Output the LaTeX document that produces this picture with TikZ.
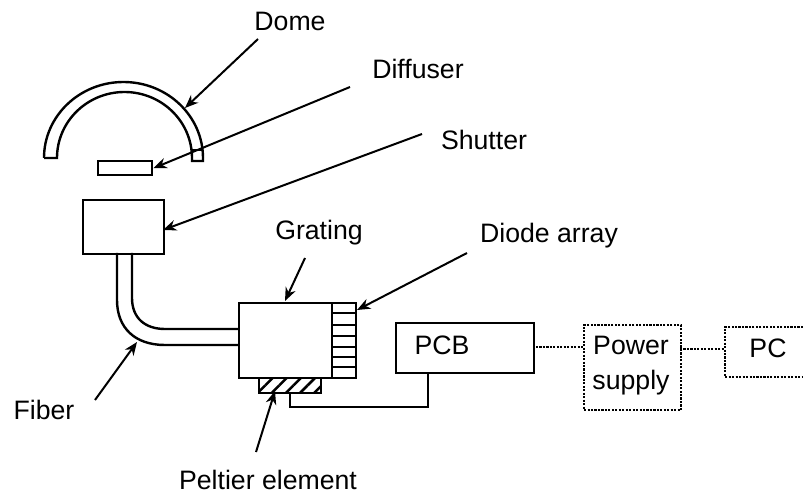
\documentclass[tikz,border=0pt]{standalone}
\usepackage{fontspec}
\setmainfont{Liberation Sans}
\usetikzlibrary{arrows.meta, patterns.meta}
\begin{document}
\begin{tikzpicture}[x=0.75pt, y=-0.75pt, >={Stealth[length=10pt, width=8pt]}, font=\fontsize{20}{27}\selectfont,
    part/.style={draw, line width=1.8pt, fill=white, inner sep=0pt, anchor=north west},
    caption/.style={inner sep=0pt},
    pointer/.style={->, line width=1.5pt},
    wire/.style={line width=1.8pt},
    link/.style={line width=1.6pt, densely dotted}]
    \useasboundingbox (0,0) rectangle (803,495);
    % optics
    \draw[wire] (44,158) -- (57,158) arc[start angle=180, end angle=360, x radius=67.5, y radius=66] -- (192,161) -- (203,161) -- (203,158);
    \draw[wire] (44,158) arc[start angle=180, end angle=360, x radius=79.5, y radius=76];
    \draw[wire] (192,150) -- (203,150);
    \node (diffuser) [part, minimum width=54*0.75pt, minimum height=14*0.75pt] at (97,160) {};
    \node (shutter) [part, minimum width=81*0.75pt, minimum height=54*0.75pt] at (82,199) {};
    \draw[wire] (117,253) -- (117,300) .. controls (117,328) and (135,345) .. (165,345) -- (238,345);
    \draw[wire] (132,253) -- (132,298) .. controls (132,318) and (145,329) .. (165,329) -- (238,329);
    % spectrometer
    \node (grating) [part, minimum width=93*0.75pt, minimum height=75*0.75pt] at (238,302) {};
    \node (diode) [part, minimum width=24*0.75pt, minimum height=75*0.75pt] at (331,302) {};
    \foreach \y in {313,325,336,347,357,367}
        \draw[line width=1.5pt] (331,\y) -- (355,\y);
    \node (peltier) [part, minimum width=62*0.75pt, minimum height=15*0.75pt, pattern={Lines[angle=45, distance=7.5pt, line width=1.9pt]}, pattern color=black] at (258,377) {};
    \node (pcb) [part, minimum width=138*0.75pt, minimum height=50*0.75pt] at (395,322) {};
    \node (supply) [part, line width=1.6pt, densely dotted, minimum width=97*0.75pt, minimum height=85*0.75pt] at (583,324) {};
    \coordinate (pcbwire) at (428,372);
    \coordinate (wirecorner) at (428,407);
    \coordinate (wireend) at (290,392);
    \draw[wire] (pcbwire) -- (wirecorner) -| (wireend);
    \coordinate (pctop) at (803,327);
    \coordinate (pcbot) at (803,377);
    \draw[link] (pctop) -- (725,327) -- (725,377) -- (pcbot);
    \coordinate (pcbout) at (536,347);
    \coordinate (supplyin) at (583,347);
    \coordinate (supplyout) at (680,349);
    \coordinate (pcin) at (725,349);
    \draw[link] (pcbout) -- (supplyin);
    \draw[link] (supplyout) -- (pcin);
    % texts
    \node (pcbtext) [caption] at (442,345) {PCB};
    \node (powertext) [caption] at (631,345) {Power};
    \node (supplytext) [caption] at (631,383) {supply};
    \node (pctext) [caption] at (768,348) {PC};
    \node (dome) [caption] at (290,21) {Dome};
    \node (diffuserlabel) [caption] at (418,69) {Diffuser};
    \node (shutterlabel) [caption] at (484,140) {Shutter};
    \node (gratinglabel) [caption] at (319,233) {Grating};
    \node (diodelabel) [caption] at (549,236) {Diode array};
    \node (fiber) [caption] at (44,410) {Fiber};
    \node (peltierlabel) [caption] at (268,480) {Peltier element};
    % pointers
    \coordinate (domefrom) at (258,39);
    \coordinate (domehit) at (185,108);
    \coordinate (difffrom) at (350,87);
    \coordinate (shutfrom) at (422,134);
    \coordinate (shuthit) at (163,230);
    \coordinate (gratfrom) at (305,258);
    \coordinate (gratinghit) at (285,301);
    \coordinate (diodefrom) at (467,253);
    \coordinate (diodehit) at (357,310);
    \coordinate (fiberfrom) at (95,400);
    \coordinate (fiberhit) at (137,342);
    \coordinate (peltfrom) at (256,452);
    \coordinate (pelthit) at (275,391);
    \draw[pointer] (domefrom) -- (domehit);
    \draw[pointer] (difffrom) -- (diffuser.east);
    \draw[pointer] (shutfrom) -- (shuthit);
    \draw[pointer] (gratfrom) -- (gratinghit);
    \draw[pointer] (diodefrom) -- (diodehit);
    \draw[pointer] (fiberfrom) -- (fiberhit);
    \draw[pointer] (peltfrom) -- (pelthit);
\end{tikzpicture}
\end{document}
